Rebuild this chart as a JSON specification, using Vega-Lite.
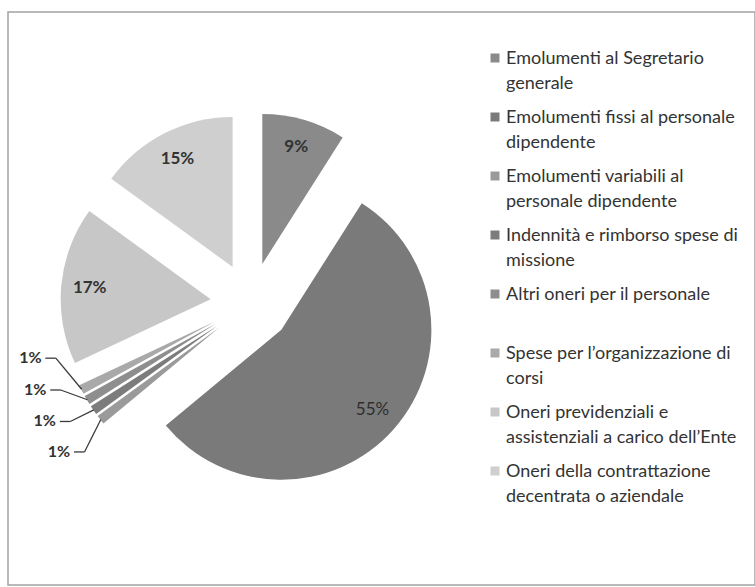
{
  "$schema": "https://vega.github.io/schema/vega-lite/v6.json",
  "width": 747,
  "height": 573,
  "autosize": "none",
  "padding": {"left": 8, "top": 12, "right": 0, "bottom": 2},
  "background": "white",
  "view": {"stroke": "#a3a3a3", "strokeWidth": 1.5},
  "config": {"font": "Lato"},
  "data": {
    "values": [
      {"voce": "Emolumenti al Segretario\ngenerale", "quota": 0.09},
      {"voce": "Emolumenti fissi al personale\ndipendente", "quota": 0.55},
      {"voce": "Emolumenti variabili al\npersonale dipendente", "quota": 0.01},
      {"voce": "Indennità e rimborso spese di\nmissione", "quota": 0.01},
      {"voce": "Altri oneri per il personale", "quota": 0.01},
      {"voce": "Spese per l’organizzazione di\ncorsi", "quota": 0.01},
      {"voce": "Oneri previdenziali e\nassistenziali a carico dell’Ente", "quota": 0.17},
      {"voce": "Oneri della contrattazione\ndecentrata o aziendale", "quota": 0.15}
    ]
  },
  "transform": [
    {"window": [{"op": "sum", "field": "quota", "as": "fine"}], "frame": [null, 0]},
    {"calculate": "datum.fine - datum.quota", "as": "inizio"},
    {"calculate": "PI * (datum.inizio + datum.fine)", "as": "ang"},
    {"calculate": "0.27 * sin(datum.ang)", "as": "cx"},
    {"calculate": "0.27 * cos(datum.ang)", "as": "cy"},
    {"calculate": "1.08 * sin(datum.ang)", "as": "bx"},
    {"calculate": "1.08 * cos(datum.ang)", "as": "by"},
    {"calculate": "1.267 * sin(datum.ang)", "as": "px"},
    {"calculate": "1.267 * cos(datum.ang)", "as": "py"},
    {"calculate": "2 * PI * 0.645 + 2.2 * (datum.ang - 2 * PI * 0.645)", "as": "la"},
    {"calculate": "1.62 - 0.55 * (datum.ang - 2 * PI * 0.645)", "as": "lr"},
    {"calculate": "datum.lr * sin(datum.la)", "as": "lx"},
    {"calculate": "datum.lr * cos(datum.la)", "as": "ly"},
    {"calculate": "datum.lx + 0.1", "as": "hx1"},
    {"calculate": "datum.lx + 0.17", "as": "hx2"}
  ],
  "layer": [
    {
      "mark": {"type": "arc", "radius": 150, "strokeWidth": 0},
      "encoding": {
        "x": {"field": "cx", "type": "quantitative", "scale": {"domain": [-1, 1], "range": [93, 393], "nice": false, "zero": false}, "axis": null},
        "y": {"field": "cy", "type": "quantitative", "scale": {"domain": [-1, 1], "range": [441, 141], "nice": false, "zero": false}, "axis": null},
        "theta": {"field": "inizio", "type": "quantitative", "stack": null, "scale": {"domain": [0, 1], "range": [0, 6.283185307179586]}},
        "theta2": {"field": "fine"},
        "color": {
          "field": "voce",
          "type": "nominal",
          "sort": null,
          "scale": {
            "domain": [
              "Emolumenti al Segretario\ngenerale",
              "Emolumenti fissi al personale\ndipendente",
              "Emolumenti variabili al\npersonale dipendente",
              "Indennità e rimborso spese di\nmissione",
              "Altri oneri per il personale",
              "Spese per l’organizzazione di\ncorsi",
              "Oneri previdenziali e\nassistenziali a carico dell’Ente",
              "Oneri della contrattazione\ndecentrata o aziendale"
            ],
            "range": ["#8a8a8a", "#7a7a7a", "#9a9a9a", "#7c7c7c", "#8e8e8e", "#a9a9a9", "#c7c7c7", "#cfcfcf"]
          },
          "legend": {
            "orient": "none",
            "legendX": 478,
            "legendY": 37,
            "title": null,
            "padding": 0,
            "symbolType": "square",
            "symbolSize": 81,
            "symbolStrokeWidth": 0,
            "symbolOffset": 0,
            "labelFont": "Lato",
            "labelFontSize": 18,
            "labelColor": "#333333",
            "labelLimit": 400,
            "labelOffset": 2,
            "labelBaseline": "alphabetic",
            "labelExpr": "split(datum.label, '\\n')",
            "rowPadding": 15,
            "gridAlign": "all",
            "encode": {"labels": {"update": {"dy": {"value": 6}, "lineHeight": {"value": 25}}}}
          }
        }
      }
    },
    {
      "transform": [{"filter": "datum.quota >= 0.05 && datum.quota < 0.5"}],
      "mark": {"type": "text", "fontSize": 17, "fontWeight": "bold", "color": "#333333", "align": "center", "baseline": "middle"},
      "encoding": {
        "x": {"field": "bx", "type": "quantitative"},
        "y": {"field": "by", "type": "quantitative"},
        "text": {"field": "quota", "type": "quantitative", "format": ".0%"}
      }
    },
    {
      "transform": [{"filter": "datum.quota >= 0.5"}],
      "mark": {"type": "text", "fontSize": 17, "fontWeight": "normal", "color": "#2e2e2e", "align": "center", "baseline": "middle"},
      "encoding": {
        "x": {"field": "bx", "type": "quantitative"},
        "y": {"field": "by", "type": "quantitative"},
        "text": {"field": "quota", "type": "quantitative", "format": ".0%"}
      }
    },
    {
      "transform": [{"filter": "datum.quota < 0.05"}],
      "mark": {"type": "text", "fontSize": 16, "fontWeight": "bold", "color": "#333333", "align": "center", "baseline": "middle"},
      "encoding": {
        "x": {"field": "lx", "type": "quantitative"},
        "y": {"field": "ly", "type": "quantitative"},
        "text": {"field": "quota", "type": "quantitative", "format": ".0%"}
      }
    },
    {
      "transform": [{"filter": "datum.quota < 0.05"}],
      "mark": {"type": "rule", "color": "#3a3a3a", "strokeWidth": 1.3},
      "encoding": {
        "x": {"field": "hx1", "type": "quantitative"},
        "x2": {"field": "hx2"},
        "y": {"field": "ly", "type": "quantitative"}
      }
    },
    {
      "transform": [{"filter": "datum.quota < 0.05"}],
      "mark": {"type": "rule", "color": "#3a3a3a", "strokeWidth": 1.3},
      "encoding": {
        "x": {"field": "hx2", "type": "quantitative"},
        "x2": {"field": "px"},
        "y": {"field": "ly", "type": "quantitative"},
        "y2": {"field": "py"}
      }
    }
  ]
}
